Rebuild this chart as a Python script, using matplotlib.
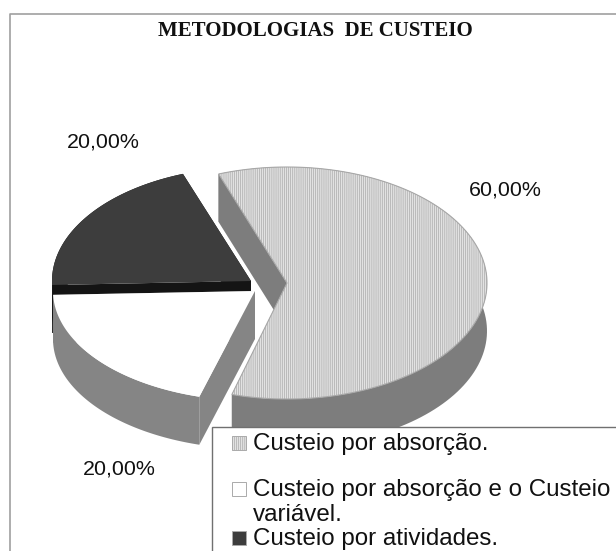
import matplotlib
matplotlib.use('Agg')
import matplotlib.pyplot as plt
from matplotlib.patches import Polygon, Rectangle
import numpy as np

title = 'METODOLOGIAS  DE CUSTEIO'
categories = ['Custeio por absorção.', 'Custeio por absorção e o Custeio\nvariável.', 'Custeio por atividades.']
values = [60, 20, 20]

plt.rcParams['hatch.linewidth'] = 0.5

W, H = 616, 551
fig = plt.figure(figsize=(W / 100, H / 100), dpi=100)
ax = fig.add_axes([0, 0, 1, 1])
ax.set_xlim(0, W)
ax.set_ylim(H, 0)
ax.axis('off')

# pixel layout of the fake 3d pie
depth = 48
rxs = [200, 202, 199]
rys = [116, 110, 114]
centers = [(287, 283), (255, 291), (251, 281)]
tops = ['#e2e2e2', '#ffffff', '#3d3d3d']
walls = ['#7d7d7d', '#858585', '#141414']
start = 110


def sector(c, rx, ry, a0, a1):
    t = np.radians(np.linspace(a0, a1, 120))
    return np.column_stack([c[0] + rx * np.cos(t), c[1] - ry * np.sin(t)])


def slice3d(c, rx, ry, a0, a1, top, wall, hatch=None):
    arc = sector(c, rx, ry, a0, a1)
    down = np.array([0, depth])
    apex = np.array(c, dtype=float)
    # cut faces then outer wall
    for p in (arc[0], arc[-1]):
        ax.add_patch(Polygon([apex, p, p + down, apex + down], fc=wall, ec='none', zorder=order))
    ax.add_patch(Polygon(np.vstack([arc, (arc + down)[::-1]]), fc=wall, ec='none', zorder=order))
    if hatch:
        ax.add_patch(Polygon(np.vstack([apex, arc]), fc=top, ec='#aaaaaa', hatch=hatch, lw=0, zorder=order + 0.5))
        ax.add_patch(Polygon(np.vstack([apex, arc]), fc='none', ec='#a8a8a8', lw=0.8, zorder=order + 0.6))
    else:
        ax.add_patch(Polygon(np.vstack([apex, arc]), fc=top, ec='none', zorder=order + 0.5))


spans = np.array(values) / sum(values) * 360
angles = start - np.concatenate([[0], np.cumsum(spans)])

# draw back to front: dark, white, light
for order, i in zip([1, 2, 3], [2, 1, 0]):
    slice3d(centers[i], rxs[i], rys[i], angles[i], angles[i + 1], tops[i], walls[i], '||||||||' if i == 0 else None)

# outer frame
ax.plot([10, 10, W + 5], [H + 5, 14, 14], color='#a0a0a0', lw=1.2, zorder=5)

ax.text(315, 31, title, ha='center', va='center', family='Liberation Serif',
        fontweight='bold', fontsize=15, color='#111111', zorder=6)

label_pos = [(505, 190), (119, 469), (103, 142)]
for v, (x, y) in zip(values, label_pos):
    ax.text(x, y, f'{v:.2f}%'.replace('.', ','), ha='center', va='center',
            family='Liberation Sans', fontsize=15.4, color='#111111', zorder=6)

# legend box runs off the page
ax.add_patch(Rectangle((212, 427), W, H, fc='white', ec='#707070', lw=1.0, zorder=7))
legend_y = [450, 496, 545]
swatch = [('#e2e2e2', '||||||||'), ('#ffffff', None), ('#3d3d3d', None)]
for lab, y, (col, h) in zip(categories, legend_y, swatch):
    ax.add_patch(Rectangle((232, y - 14), 14, 14, fc=col, ec='#aaaaaa', lw=0.7, hatch=h, zorder=8))
    lines = lab.split('\n')
    ax.text(253, y, lines[0], ha='left', va='baseline', family='Liberation Sans',
            fontsize=17.4, color='#111111', zorder=8)
    if len(lines) > 1:
        ax.text(253, y + 25, lines[1], ha='left', va='baseline', family='Liberation Sans',
                fontsize=17.4, color='#111111', zorder=8)

fig.savefig('out.png', dpi=100)
